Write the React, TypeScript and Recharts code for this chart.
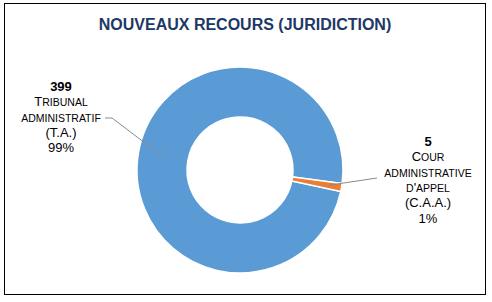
import React from "react";
import { PieChart, Pie, Cell } from "recharts";

const TITLE = "NOUVEAUX RECOURS (JURIDICTION)";
const VALUES = [399, 5];
const CATEGORY_LINES = [
  ["Tribunal", "administratif"],
  ["Cour", "administrative", "d'appel"],
];
const ABBREVIATIONS = ["(T.A.)", "(C.A.A.)"];
const COLORS = ["#5B9BD5", "#ED7D31"];

const data = VALUES.map((value, i) => ({
  name: CATEGORY_LINES[i].join(" "),
  value,
  abbr: ABBREVIATIONS[i],
}));

// label block placement relative to pie centre (layout only)
const LABEL_LAYOUT = [
  { dx: -179, dy: -79, lineRadius: 78, points: [[-128, -52], [-135, -52]] },
  { dx: 188, dy: -24, lineRadius: 90, points: [[137, 8]] },
];

const FONT = "'Liberation Sans', Arial, sans-serif";
const RAD = Math.PI / 180;
const LINE_H = 15.3;
const BIG = 13;
const SMALL = 10.5;

// manual small caps: lowercase letters become smaller capitals
function smallCaps(word: string) {
  const parts: { t: string; small: boolean }[] = [];
  for (const ch of word) {
    const small = ch !== ch.toUpperCase();
    const last = parts[parts.length - 1];
    if (last && last.small === small) last.t += ch.toUpperCase();
    else parts.push({ t: ch.toUpperCase(), small });
  }
  return parts;
}

function renderLabel(props: any) {
  const { cx, cy, midAngle, percent, index, value } = props;
  const lay = LABEL_LAYOUT[index];
  const sx = cx + Math.cos(-midAngle * RAD) * lay.lineRadius;
  const sy = cy + Math.sin(-midAngle * RAD) * lay.lineRadius;
  const pts = [[sx, sy], ...lay.points.map(([x, y]) => [cx + x, cy + y])];
  const lines = CATEGORY_LINES[index];
  const x = cx + lay.dx;
  const y0 = cy + lay.dy;
  const common = {
    textAnchor: "middle" as const,
    fontFamily: FONT,
    fill: "#000",
  };
  return (
    <g key={`lbl-${index}`}>
      <polyline
        points={pts.map((p) => p.join(",")).join(" ")}
        fill="none"
        stroke="#8a8a8a"
        strokeWidth={1}
      />
      <text x={x} y={y0} fontSize={BIG} fontWeight="bold" {...common}>
        {value}
      </text>
      {lines.map((l, i) => (
        <text key={i} x={x} y={y0 + LINE_H * (i + 1)} fontSize={BIG} {...common}>
          {smallCaps(l).map((p, j) => (
            <tspan key={j} fontSize={p.small ? SMALL : BIG}>
              {p.t}
            </tspan>
          ))}
        </text>
      ))}
      <text x={x} y={y0 + LINE_H * (lines.length + 1)} fontSize={BIG} {...common}>
        {ABBREVIATIONS[index]}
      </text>
      <text x={x} y={y0 + LINE_H * (lines.length + 2)} fontSize={BIG} {...common}>
        {`${Math.round(percent * 100)}%`}
      </text>
    </g>
  );
}

export default function App() {
  return (
    <div style={{ position: "absolute", left: 0, top: 0, width: 492, height: 302, background: "#fff" }}>
      <div
        style={{
          position: "absolute",
          left: 4,
          top: 3,
          width: 482,
          height: 292,
          border: "1.5px solid #000",
          boxSizing: "border-box",
        }}
      />
      <div style={{ position: "absolute", left: 0, top: 0 }}>
        <PieChart width={492} height={302} margin={{ top: 0, right: 0, bottom: 0, left: 0 }}>
          <text
            x={245}
            y={30}
            textAnchor="middle"
            fontFamily={FONT}
            fontSize={16}
            fontWeight="bold"
            fill="#203864"
          >
            {TITLE}
          </text>
          <Pie
            data={data}
            dataKey="value"
            nameKey="name"
            cx={240}
            cy={170}
            innerRadius={53}
            outerRadius={103}
            startAngle={-12}
            endAngle={-372}
            paddingAngle={0}
            label={renderLabel}
            labelLine={false}
            isAnimationActive={false}
          >
            {data.map((d, i) => (
              <Cell key={`cell-${i}`} fill={COLORS[i]} stroke="#fff" strokeWidth={1.5} />
            ))}
          </Pie>
        </PieChart>
      </div>
    </div>
  );
}
